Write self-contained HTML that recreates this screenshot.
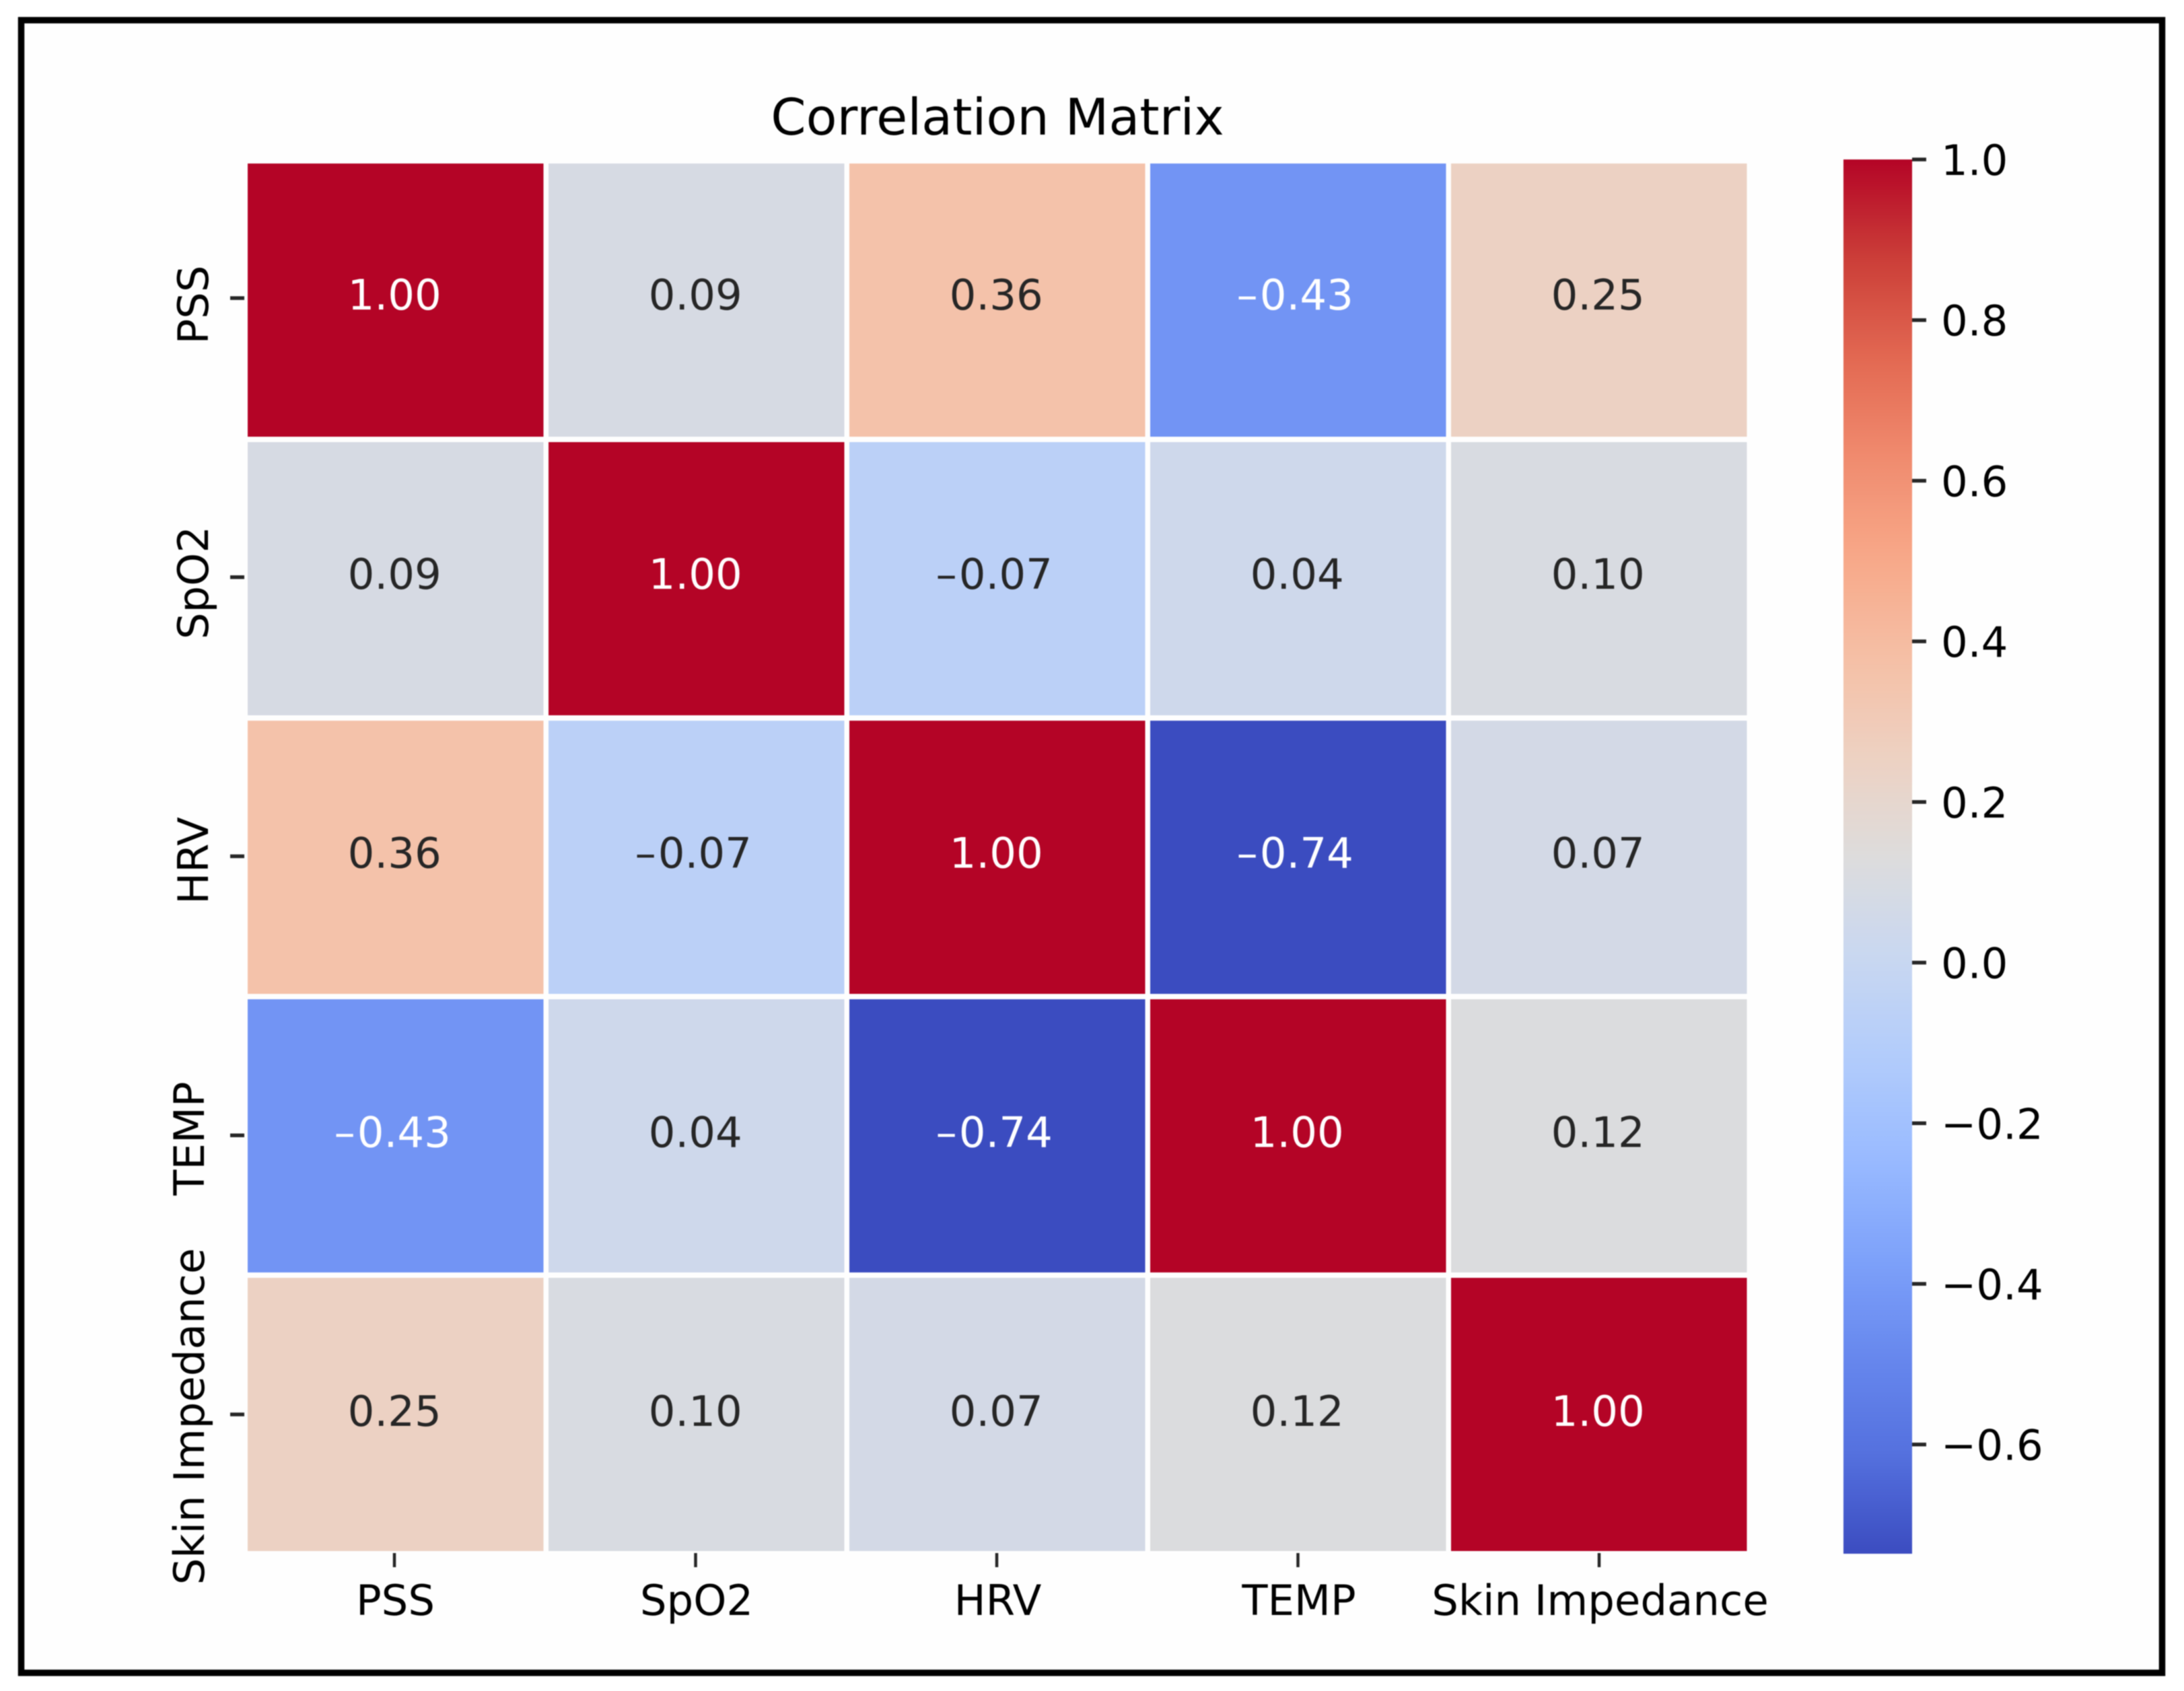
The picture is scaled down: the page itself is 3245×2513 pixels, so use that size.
<!DOCTYPE html>
<html lang="en">
<head>
<meta charset="utf-8">
<title>Correlation Matrix</title>
<style>
  html, body { margin: 0; padding: 0; background: #ffffff; }
  svg { display: block; filter: blur(0.7px); }
  text { font-family: "DejaVu Sans", "Liberation Sans", sans-serif; }
</style>
</head>
<body>
<svg id="chart" xmlns="http://www.w3.org/2000/svg" width="3245" height="2513" viewBox="0 0 3245 2513">
  <defs>
    <linearGradient id="cbar-gradient" x1="0" y1="0" x2="0" y2="1"></linearGradient>
  </defs>
  <rect x="0" y="0" width="3245" height="2513" fill="#ffffff"></rect>
  <rect x="31.5" y="30" width="3181" height="2456" fill="#fefefe" stroke="#000000" stroke-width="9.5"></rect>
  <text x="1482" y="200" font-size="75" text-anchor="middle" fill="#000000">Correlation Matrix</text>
  <g id="cells"></g>
  <g id="annotations"></g>
  <g id="x-axis"></g>
  <g id="y-axis"></g>
  <g id="colorbar"></g>
</svg>
<script>
const categories = ["PSS", "SpO2", "HRV", "TEMP", "Skin Impedance"];
const rowPSS  = [1.00, 0.09, 0.36, -0.43, 0.25];
const rowSpO2 = [0.09, 1.00, -0.07, 0.04, 0.10];
const rowHRV  = [0.36, -0.07, 1.00, -0.736, 0.07];
const rowTEMP = [-0.43, 0.04, -0.736, 1.00, 0.12];
const rowSkin = [0.25, 0.10, 0.07, 0.12, 1.00];
const colorbarTicks = [1.0, 0.8, 0.6, 0.4, 0.2, 0.0, -0.2, -0.4, -0.6];

const matrix = [rowPSS, rowSpO2, rowHRV, rowTEMP, rowSkin];
const allValues = matrix.flat();
const vmin = Math.min(...allValues);
const vmax = Math.max(...allValues);

const SVG_NS = "http://www.w3.org/2000/svg";
const coolwarmStops = [
  [0, 59, 76, 192], [0.071, 84, 112, 222], [0.143, 103, 136, 238], [0.214, 126, 162, 250],
  [0.286, 154, 187, 255], [0.357, 178, 204, 251], [0.429, 201, 215, 240], [0.5, 221, 220, 220],
  [0.571, 237, 209, 194], [0.643, 245, 191, 165], [0.714, 247, 168, 137], [0.786, 240, 139, 110],
  [0.857, 226, 105, 82], [0.929, 203, 62, 56], [1, 180, 4, 38]
];

function colormap(t) {
  const c = Math.max(0, Math.min(1, t));
  for (let k = 1; k < coolwarmStops.length; k++) {
    const a = coolwarmStops[k - 1];
    const b = coolwarmStops[k];
    if (c <= b[0]) {
      const f = (c - a[0]) / (b[0] - a[0]);
      return [a[1] + f * (b[1] - a[1]), a[2] + f * (b[2] - a[2]), a[3] + f * (b[3] - a[3])].map(Math.round);
    }
  }
  return [180, 4, 38];
}
function normalize(v) { return (v - vmin) / (vmax - vmin); }
function rgb(c) { return "rgb(" + c.join(",") + ")"; }
function luminance(c) {
  const l = c.map(function (x) {
    const s = x / 255;
    return s <= 0.03928 ? s / 12.92 : Math.pow((s + 0.055) / 1.055, 2.4);
  });
  return 0.2126 * l[0] + 0.7152 * l[1] + 0.0722 * l[2];
}
function formatValue(v, digits) { return v.toFixed(digits).replace("-", "\u2212"); }

/* Axis functions */
const CELL_W = 439.5, CELL_H = 406;
function cellX(i) { return 368 + i * 447; }
function cellY(i) { return 243 + i * 414; }
function tickX(i) { return 586 + i * 447.5; }
function tickY(i) { return 443 + i * 414.75; }
function yLabelBaseline(i) { return i < 3 ? 309 : 303; }
const CBAR_LEFT = 2739, CBAR_RIGHT = 2841, CBAR_TOP = 237, CBAR_BOTTOM = 2309;
function cbarY(v) { return CBAR_TOP + (vmax - v) / (vmax - vmin) * (CBAR_BOTTOM - CBAR_TOP); }

function make(tag, attrs, parent) {
  const el = document.createElementNS(SVG_NS, tag);
  for (const k in attrs) el.setAttribute(k, attrs[k]);
  parent.appendChild(el);
  return el;
}

const cellsGroup = document.getElementById("cells");
const annGroup = document.getElementById("annotations");
const xGroup = document.getElementById("x-axis");
const yGroup = document.getElementById("y-axis");
const cbarGroup = document.getElementById("colorbar");
const gradient = document.getElementById("cbar-gradient");

matrix.forEach(function (row, r) {
  row.forEach(function (v, c) {
    const color = colormap(normalize(v));
    const cell = make("rect", { x: cellX(c), y: cellY(r), width: CELL_W, height: CELL_H, fill: rgb(color) }, cellsGroup);
    
    
    const label = make("text", {
      x: cellX(c) + CELL_W / 2 - 1.5 - (v < 0 ? 3 : 0),
      y: cellY(r) + CELL_H / 2 + 14 + r * 0.75,
      "font-size": 62.5,
      "text-anchor": "middle",
      fill: luminance(color) > 0.408 ? "#262626" : "#ffffff"
    }, annGroup);
    const digits = Math.abs(v).toFixed(2);
    if (v < 0) {
      label.appendChild(document.createTextNode("\u2013"));
      const magnitude = make("tspan", { dx: 3 }, label);
      magnitude.textContent = digits;
    } else {
      label.textContent = digits;
    }
    
    
  });
});

categories.forEach(function (name, i) {
  const xt = make("rect", { x: tickX(i) - 2.25, y: 2308, width: 4.5, height: 21, fill: "#262626" }, xGroup);
  
  
  const xl = make("text", { x: tickX(i) + 1.5, y: 2400, "font-size": 62.5, "text-anchor": "middle", fill: "#000000" }, xGroup);
  xl.textContent = name;
  
  

  const yt = make("rect", { x: 342, y: tickY(i) - 2.75, width: 21, height: 5.5, fill: "#262626" }, yGroup);
  
  
  const bx = yLabelBaseline(i);
  const by = tickY(i) + 10 - 1.75 * i;
  const yl = make("text", { x: 0, y: 0, transform: "translate(" + bx + " " + by + ") rotate(-90)", "font-size": 62.5, "text-anchor": "middle", fill: "#000000" }, yGroup);
  yl.textContent = name;
  
  
});

for (let s = 0; s <= 96; s++) {
  const frac = s / 96;
  make("stop", { offset: frac, "stop-color": rgb(colormap(1 - frac)) }, gradient);
}
const bar = make("rect", { x: CBAR_LEFT, y: CBAR_TOP, width: CBAR_RIGHT - CBAR_LEFT, height: CBAR_BOTTOM - CBAR_TOP, fill: "url(#cbar-gradient)" }, cbarGroup);



colorbarTicks.forEach(function (v) {
  const t = make("rect", { x: CBAR_RIGHT, y: cbarY(v) - 2.75, width: 21, height: 5.5, fill: "#262626" }, cbarGroup);
  
  
  const l = make("text", { x: 2884, y: cbarY(v) + 23, "font-size": 62.5, fill: "#000000" }, cbarGroup);
  l.textContent = formatValue(v, 1);
  
  
});
</script>
</body>
</html>
